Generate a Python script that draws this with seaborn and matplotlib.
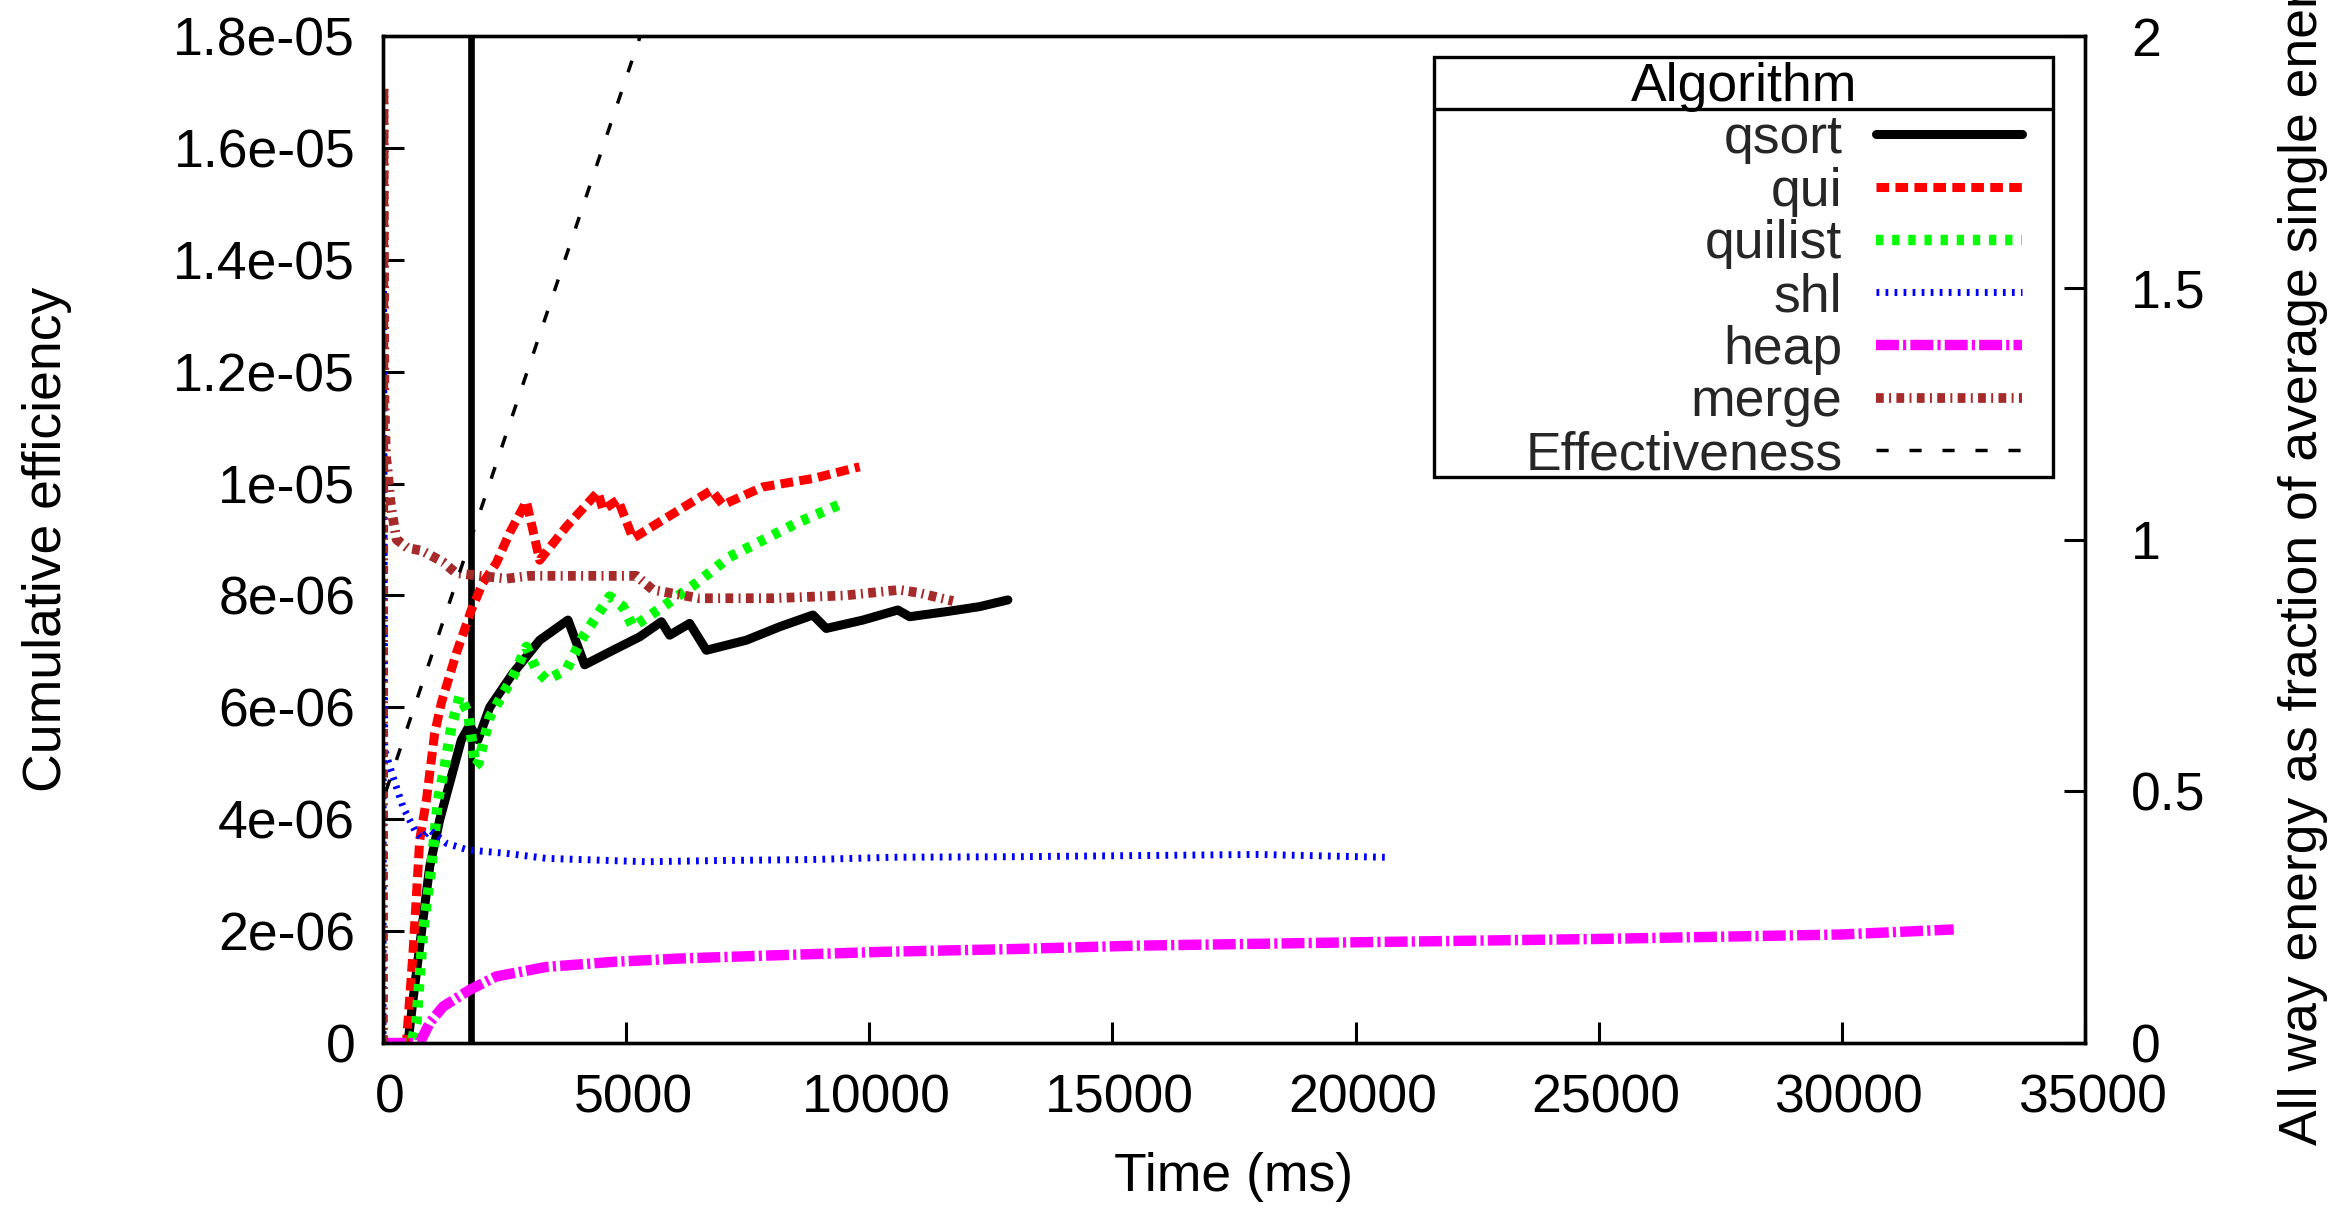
import matplotlib
matplotlib.use("Agg")
import matplotlib.pyplot as plt
import pandas as pd
import seaborn as sns
from matplotlib.patches import Rectangle
from matplotlib.lines import Line2D
from matplotlib.transforms import ScaledTranslation

# ---------------- data ----------------
algorithms = ["qsort", "qui", "quilist", "shl", "heap", "merge"]

qsort_t = [0, 514, 617, 789, 960, 1166, 1406, 1612, 1783, 1953, 2194, 2673, 3222, 3804,
           4147, 4729, 5278, 5724, 5895, 6306, 6649, 7471, 8156, 8841, 9115, 9869,
           10588, 10829, 11583, 12268, 12850]
qsort_y = [0, 0, 0.77e-6, 1.97e-6, 3.15e-6, 3.99e-6, 4.76e-6, 5.42e-6, 5.68e-6, 5.42e-6,
           6.0e-6, 6.61e-6, 7.2e-6, 7.56e-6, 6.76e-6, 7.02e-6, 7.26e-6, 7.53e-6, 7.29e-6,
           7.5e-6, 7.02e-6, 7.2e-6, 7.44e-6, 7.65e-6, 7.41e-6, 7.56e-6, 7.74e-6, 7.62e-6,
           7.71e-6, 7.8e-6, 7.92e-6]

qui_t = [0, 481, 617, 755, 892, 1063, 1200, 1509, 1817, 2050, 2331, 2605, 2948, 3222,
         3771, 4421, 4523, 4832, 5140, 5757, 6752, 6991, 7813, 8841, 9801]
qui_y = [0, 0, 1.61e-6, 3.63e-6, 4.34e-6, 5.54e-6, 6.08e-6, 6.97e-6, 7.74e-6, 8.22e-6,
         8.58e-6, 9.12e-6, 9.68e-6, 8.63e-6, 9.23e-6, 9.85e-6, 9.53e-6, 9.71e-6, 9.02e-6,
         9.35e-6, 9.88e-6, 9.62e-6, 9.94e-6, 10.09e-6, 10.30e-6]

quilist_t = [0, 584, 686, 822, 995, 1131, 1269, 1406, 1577, 1750, 1900, 1960, 2194, 2673,
             2948, 3154, 3360, 3771, 4112, 4661, 4934, 5140, 5757, 6443, 7128, 7813, 8499,
             9458]
quilist_y = [0, 0, 0.36e-6, 1.97e-6, 3.15e-6, 4.34e-6, 4.94e-6, 5.65e-6, 6.2e-6, 5.9e-6,
             4.95e-6, 5.0e-6, 5.83e-6, 6.55e-6, 7.08e-6, 6.67e-6, 6.49e-6, 6.67e-6, 7.26e-6,
             7.98e-6, 7.80e-6, 7.44e-6, 7.80e-6, 8.22e-6, 8.69e-6, 8.99e-6, 9.29e-6, 9.65e-6]

shl_t = [0, 10, 35, 206, 411, 686, 789, 960, 1303, 1748, 2537, 3359, 5415, 6779, 8835,
         10480, 13000, 15500, 18000, 20600]
shl_y = [0, 13.9e-6, 5.24e-6, 4.76e-6, 4.22e-6, 3.75e-6, 3.66e-6, 3.81e-6, 3.57e-6,
         3.45e-6, 3.39e-6, 3.30e-6, 3.24e-6, 3.26e-6, 3.28e-6, 3.32e-6, 3.33e-6, 3.35e-6,
         3.37e-6, 3.32e-6]

heap_t = [0, 755, 960, 1234, 1783, 2331, 3360, 4729, 6100, 8156, 10280, 13000, 15500,
          20000, 25000, 30000, 32300]
heap_y = [0, 0, 0.36e-6, 0.65e-6, 0.95e-6, 1.19e-6, 1.36e-6, 1.45e-6, 1.51e-6, 1.57e-6,
          1.63e-6, 1.68e-6, 1.74e-6, 1.80e-6, 1.86e-6, 1.94e-6, 2.03e-6]

merge_t = [0, 10, 30, 60, 100, 150, 200, 280, 500, 800, 1230, 1500, 2000, 2540, 3000,
           4000, 5210, 5550, 6500, 8000, 9500, 10620, 11000, 11720]
merge_y = [0, 17.1e-6, 11.5e-6, 10.5e-6, 10.2e-6, 9.7e-6, 9.4e-6, 9.0e-6, 8.85e-6, 8.8e-6,
           8.6e-6, 8.4e-6, 8.35e-6, 8.3e-6, 8.35e-6, 8.35e-6, 8.35e-6, 8.1e-6, 7.95e-6,
           7.95e-6, 8.0e-6, 8.1e-6, 8.05e-6, 7.9e-6]

eff_t = [60, 5290]
eff_y = [0.50, 2.0]

marker_time = 1818

x_ticks = [0, 5000, 10000, 15000, 20000, 25000, 30000, 35000]
y_ticks = [0, 2e-6, 4e-6, 6e-6, 8e-6, 1e-5, 1.2e-5, 1.4e-5, 1.6e-5, 1.8e-5]
y_tick_labels = ["0", "2e-06", "4e-06", "6e-06", "8e-06", "1e-05", "1.2e-05",
                 "1.4e-05", "1.6e-05", "1.8e-05"]
y2_ticks = [0, 0.5, 1, 1.5, 2]
y2_tick_labels = ["0", "0.5", "1", "1.5", "2"]

series = {
    "qsort": (qsort_t, qsort_y),
    "qui": (qui_t, qui_y),
    "quilist": (quilist_t, quilist_y),
    "shl": (shl_t, shl_y),
    "heap": (heap_t, heap_y),
    "merge": (merge_t, merge_y),
}

styles = {
    "qsort": dict(color="#000000", linewidth=6.5, linestyle="-"),
    "qui": dict(color="#ff0000", linewidth=6.5, linestyle=(0, (1.4, 0.7))),
    "quilist": dict(color="#00ff00", linewidth=7.5, linestyle=(0, (0.7, 0.85))),
    "shl": dict(color="#0000ff", linewidth=5.0, linestyle=(0, (0.4, 0.9))),
    "heap": dict(color="#ff00ff", linewidth=7.5, linestyle=(0, (2.2, 0.4, 0.3, 0.4))),
    "merge": dict(color="#a52a2a", linewidth=7.0, linestyle=(0, (0.8, 0.55, 0.2, 0.55))),
}

# ---------------- style ----------------
sns.set_theme(style="white")
plt.rcParams["font.family"] = ["Liberation Sans", "DejaVu Sans"]
plt.rcParams["axes.linewidth"] = 2.4
plt.rcParams["axes.edgecolor"] = "black"
FS = 38.5

W, H = 2349, 1210
fig = plt.figure(figsize=(W / 100, H / 100), dpi=100)
fig.patch.set_facecolor("white")
ax = fig.add_axes([383 / W, 1 - 1043 / H, 1702 / W, 1007 / H])
ax2 = ax.twinx()

ax.axvline(marker_time, color="black", linewidth=4.8, zorder=1.5)

handles = []
for name in algorithms:
    t, y = series[name]
    df = pd.DataFrame({"Time": t, "Efficiency": y})
    sns.lineplot(data=df, x="Time", y="Efficiency", ax=ax, estimator=None,
                 sort=False, legend=False, zorder=2, **styles[name])
    handles.append(ax.lines[-1])

eff_df = pd.DataFrame({"Time": eff_t, "Effectiveness": eff_y})
sns.lineplot(data=eff_df, x="Time", y="Effectiveness", ax=ax2, estimator=None,
             sort=False, legend=False, color="black", linewidth=2.5,
             linestyle=(0, (3.5, 6)))
handles.append(ax2.lines[-1])

# ---------------- axes ----------------
ax.set_xlim(0, 35000)
ax.set_ylim(0, 1.8e-5)
ax2.set_ylim(0, 2)
ax.set_xticks(x_ticks)
ax.set_xticklabels([str(v) for v in x_ticks])
ax.set_yticks(y_ticks)
ax.set_yticklabels(y_tick_labels)
ax2.set_yticks(y2_ticks)
ax2.set_yticklabels(y2_tick_labels)

for a in (ax, ax2):
    for s in a.spines.values():
        s.set_visible(True)
        s.set_linewidth(2.4)
        s.set_color("black")

ax.tick_params(axis="x", direction="in", length=15, width=2.2, labelsize=FS,
               pad=22, bottom=True, top=False, colors="black")
ax.tick_params(axis="y", direction="in", length=15, width=2.2, labelsize=FS,
               pad=20, left=True, right=False, colors="black")
ax2.tick_params(axis="y", direction="in", length=15, width=2.2, labelsize=FS,
                pad=33, left=False, right=True, colors="black")
ax.grid(False)
ax2.grid(False)

ax.set_xlabel("Time (ms)", fontsize=FS, color="black")
ax.xaxis.set_label_coords(0.5, -0.108)
ax.set_ylabel("Cumulative efficiency", fontsize=FS, color="black")
ax.yaxis.set_label_coords(-0.183, 0.5)
ax2.set_ylabel("All way energy as fraction of average single energy", fontsize=FS,
               color="black")
ax2.yaxis.set_label_coords(1.1135, 0.5)

# ---------------- legend ----------------
leg = ax2.legend(handles, algorithms + ["Effectiveness"], loc="upper right",
                 bbox_to_anchor=(2022 / W, 1 - 114 / H), bbox_transform=fig.transFigure,
                 frameon=False, markerfirst=False, fontsize=FS, borderpad=0,
                 borderaxespad=0, handlelength=2.73, handletextpad=0.63,
                 labelspacing=0.05)
box_x0, box_x1 = 1434 / W, 2053 / W
box_y0, box_y1 = 1 - 476.7 / H, 1 - 56.7 / H
fig.add_artist(Rectangle((box_x0, box_y0), box_x1 - box_x0, box_y1 - box_y0,
                         transform=fig.transFigure, fill=False, edgecolor="black",
                         linewidth=2.4))
fig.add_artist(Line2D([box_x0, box_x1], [1 - 109.3 / H] * 2, transform=fig.transFigure,
                      color="black", linewidth=2.4))
fig.text(1744 / W, 1 - 101 / H, "Algorithm", ha="center", va="baseline", fontsize=FS,
         color="black")

# gnuplot places the x tick labels slightly right of their ticks
fig.canvas.draw()
shift = ScaledTranslation(7 / 100, 0, fig.dpi_scale_trans)
for lab in ax.get_xticklabels():
    lab.set_transform(lab.get_transform() + shift)

fig.savefig("out.png", dpi=100)
